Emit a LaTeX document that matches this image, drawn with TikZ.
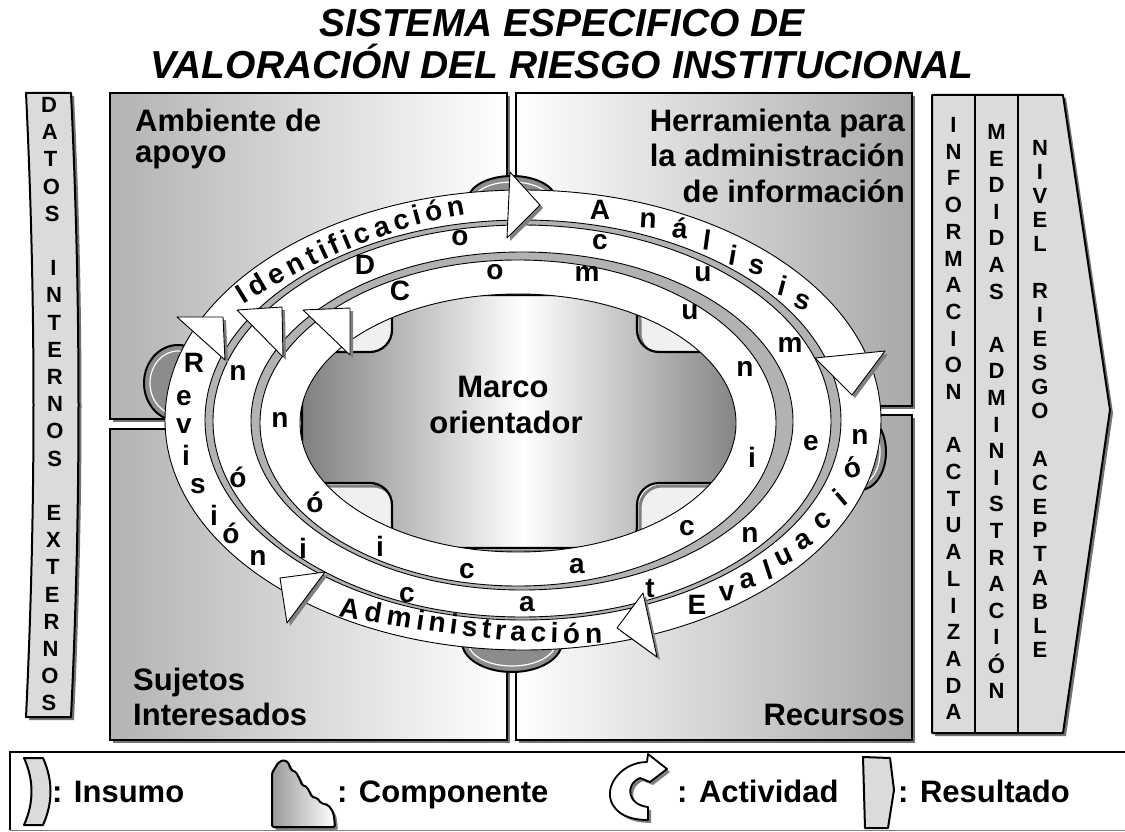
\documentclass[tikz,border=0pt]{standalone}
\usepackage{fontspec}
\setmainfont{Liberation Sans}
\begin{document}
\begin{tikzpicture}[x=1pt,y=-1pt,
  ttl/.style={font=\fontsize{39}{42}\selectfont\bfseries\itshape,anchor=base,inner sep=0pt},
  quad/.style={draw=black,line width=1.8pt},
  qshadow/.style={fill=black!55},
  lab/.style={font=\fontsize{31}{35}\selectfont\bfseries,inner sep=0pt},
  rl/.style={font=\fontsize{28}{28}\selectfont\bfseries,inner sep=0pt},
  cw/.style={font=\fontsize{28}{28}\selectfont\bfseries,inner sep=0pt,sloped,anchor=base},
  vl/.style={font=\fontsize{22}{22}\selectfont\bfseries,inner sep=0pt},
  band/.style={fill=white,draw=black,line width=0.9pt,even odd rule},
  ahead/.style={fill=white,draw=black,line width=0.9pt,line join=round},
  ashadow/.style={fill=black!50},
  inbox/.style={fill=black!14,draw=black,line width=2pt,line join=round},
  knob/.style={fill=black!45,draw=black,line width=2pt},
  legtxt/.style={font=\fontsize{31}{31}\selectfont\bfseries,anchor=base west,inner sep=0pt}
]
\useasboundingbox (0,0) rectangle (1125,832);
\fill[white] (0,0) rectangle (1125,832);

% ---------- title
\node[ttl] (t1) at (562,37) {SISTEMA ESPECIFICO DE};
\node[ttl] (t2) at (562,79) {VALORACIÓN DEL RIESGO INSTITUCIONAL};

% ---------- left input bar
\fill[black!55] (29,96) -- (74,96) .. controls (84,300) and (84,510) .. (74,720) -- (29,720) .. controls (39,510) and (39,300) .. (29,96) -- cycle;
\path[inbox] (26,93) -- (71,93) .. controls (81,300) and (81,510) .. (71,717) -- (26,717) .. controls (36,510) and (36,300) .. (26,93) -- cycle;
\foreach \c [count=\i from 0] in {D,A,T,O,S,,I,N,T,E,R,N,O,S,,E,X,T,E,R,N,O,S}
  \node[vl] (din\i) at ({49+6*sin(180*\i/22)},{105+27.2*\i}) {\c};

% ---------- quadrants
\fill[qshadow] (113,96) rectangle (510,422);
\path[quad,left color=black!30,right color=white] (110,93) rectangle (507,419);
\fill[qshadow] (519,96) rectangle (915,409);
\path[quad,left color=white,right color=black!34] (516,93) rectangle (912,406);
\fill[qshadow] (113,432) rectangle (510,743);
\path[quad,left color=black!30,right color=white] (110,429) rectangle (507,740);
\fill[qshadow] (519,418) rectangle (915,743);
\path[quad,left color=white,right color=black!34] (516,415) rectangle (912,740);

\node[lab,anchor=base west] (amb1) at (135,132) {Ambiente de};
\node[lab,anchor=base west] (amb2) at (135,163) {apoyo};
\node[lab,anchor=base east] (her1) at (905,132) {Herramienta para};
\node[lab,anchor=base east] (her2) at (905,167) {la administración};
\node[lab,anchor=base east] (her3) at (905,202) {de información};
\node[lab,anchor=base west] (suj1) at (133,690) {Sujetos};
\node[lab,anchor=base west] (suj2) at (133,725) {Interesados};
\node[lab,anchor=base east] (rec) at (905,725) {Recursos};

% ---------- knobs
\path[knob] (512,200) ellipse [x radius=44,y radius=24];
\draw[white,line width=1.2pt] (512,200) ellipse [x radius=38,y radius=18];
\path[knob] (512,642) ellipse [x radius=50,y radius=30];
\draw[white,line width=1.2pt] (512,642) ellipse [x radius=44,y radius=24];
\path[knob] (178,383) ellipse [x radius=34,y radius=38];
\draw[white,line width=1.2pt] (178,383) ellipse [x radius=28,y radius=32];
\path[knob] (860,452) ellipse [x radius=26,y radius=38];
\draw[white,line width=1.2pt] (860,452) ellipse [x radius=20,y radius=32];

% ---------- centre
\fill[black!30] (523,420) ellipse [x radius=358,y radius=230];
\fill[black!6] (518,423) ellipse [x radius=218,y radius=129];
\draw[black!50,line width=3pt,rounded corners=22pt,shift={(3,3)}] (392,295) -- (637,295) -- (637,352) -- (745,352) -- (745,483) -- (637,483) -- (637,548) -- (392,548) -- (392,483) -- (302,483) -- (302,352) -- (392,352) -- cycle;
\path[draw=black,line width=2.2pt,rounded corners=22pt,left color=black!50,right color=black!50,middle color=white] (392,295) -- (637,295) -- (637,352) -- (745,352) -- (745,483) -- (637,483) -- (637,548) -- (392,548) -- (392,483) -- (302,483) -- (302,352) -- (392,352) -- cycle;
\node[lab,anchor=base] (marco1) at (503,397) {Marco};
\node[lab,anchor=base] (marco2) at (506,433) {orientador};

% ---------- rings
\path[band] (523,420) ellipse [x radius=358,y radius=230] (523,420) ellipse [x radius=318,y radius=200];
\path[band] (522,421) ellipse [x radius=309,y radius=196] (522,421) ellipse [x radius=271,y radius=169];
\path[band] (518,423) ellipse [x radius=258,y radius=163] (518,423) ellipse [x radius=218,y radius=129];

% Documentación (middle ring)
\foreach \c/\x/\y [count=\i] in {D/365/265,o/460/238,c/600/242,u/703/274,m/790/345,e/811/443,n/750/535,t/650/588,a/527/604,c/407/595,i/303/548,ó/238/477,n/238/373}
  \node[rl] (doc\i) at (\x,\y) {\c};
% Comunicación (inner ring)
\foreach \c/\x/\y [count=\i] in {C/400/291,o/495/272,m/587/274,u/690/312,n/745/369,i/752/457,c/687/528,a/577/566,c/467/571,i/380/546,ó/315/502,n/280/420}
  \node[rl] (com\i) at (\x,\y) {\c};
% Revisión
\foreach \c/\x/\y [count=\i] in {R/194/363,e/184/398,v/184/426,i/186/455,s/198/486,i/214/515,ó/231/533,n/258/558}
  \node[rl] (rev\i) at (\x,\y) {\c};
% Análisis
\foreach \c/\x/\y/\r [count=\i] in {A/600/210/0,n/648/220/-3,á/680/228/-5,l/707/240/-8,i/733/255/-10,s/757/267/-12,i/783/286/-15,s/802/302/-18}
  \node[rl,rotate=\r] (ana\i) at (\x,\y) {\c};
% Evaluación
\foreach \c/\x/\y/\r [count=\i] in {E/697/605/0,v/727/593/5,a/748/581/12,l/768/570/18,u/784/557/25,a/804/541/30,c/823/521/35,i/840/497/40,ó/852/467/15,n/860/437/0}
  \node[rl,rotate=\r] (eva\i) at (\x,\y) {\c};
% Identificación
\path (247,302) .. controls (310,263) and (385,229) .. (457,216)
  node[cw,pos=0] (id1) {I} node[cw,pos=.075] (id2) {d} node[cw,pos=.169] (id3) {e}
  node[cw,pos=.264] (id4) {n} node[cw,pos=.342] (id5) {t} node[cw,pos=.397] (id6) {i}
  node[cw,pos=.451] (id7) {f} node[cw,pos=.506] (id8) {i} node[cw,pos=.576] (id9) {c}
  node[cw,pos=.666] (id10) {a} node[cw,pos=.756] (id11) {c} node[cw,pos=.826] (id12) {i}
  node[cw,pos=.902] (id13) {ó} node[cw,pos=1] (id14) {n};
% Administración
\path (348,618) .. controls (430,632) and (510,645) .. (594,643)
  node[cw,pos=0] (ad1) {A} node[cw,pos=.097] (ad2) {d} node[cw,pos=.204] (ad3) {m}
  node[cw,pos=.291] (ad4) {i} node[cw,pos=.360] (ad5) {n} node[cw,pos=.428] (ad6) {i}
  node[cw,pos=.494] (ad7) {s} node[cw,pos=.563] (ad8) {t} node[cw,pos=.621] (ad9) {r}
  node[cw,pos=.693] (ad10) {a} node[cw,pos=.776] (ad11) {c} node[cw,pos=.841] (ad12) {i}
  node[cw,pos=.910] (ad13) {ó} node[cw,pos=1] (ad14) {n};

% ---------- arrowheads
\foreach \p in {{(510,172) -- (540,205) -- (507,238)},
                {(815,358) -- (885,351) -- (852,395)},
                {(643,593) -- (617,628) -- (657,657)},
                {(325,572) -- (280,578) -- (287,623)},
                {(177,317) -- (223,317) -- (225,360)},
                {(237,310) -- (282,307) -- (283,357)},
                {(303,310) -- (350,308) -- (350,355)}}
{
  \fill[ashadow,shift={(3,3)}] \p -- cycle;
  \path[ahead] \p -- cycle;
}

% ---------- right results
\fill[black!55] (935,98) -- (1066,98) -- (1113,413) -- (1066,736) -- (935,736) -- cycle;
\path[inbox] (932,95) -- (1063,95) -- (1110,410) -- (1063,733) -- (932,733) -- cycle;
\draw[line width=2pt] (975,95) -- (975,733);
\draw[line width=2pt] (1018,95) -- (1018,733);
\foreach \c [count=\i from 0] in {I,N,F,O,R,M,A,C,I,O,N,,A,C,T,U,A,L,I,Z,A,D,A}
  \node[vl] (inf\i) at (953.5,{125+26.7*\i}) {\c};
\foreach \c [count=\i from 0] in {M,E,D,I,D,A,S,,A,D,M,I,N,I,S,T,R,A,C,I,Ó,N}
  \node[vl] (med\i) at (996.5,{132+26.6*\i}) {\c};
\foreach \c [count=\i from 0] in {N,I,V,E,L,,R,I,E,S,G,O,,A,C,E,P,T,A,B,L,E}
  \node[vl] (niv\i) at (1040,{148+23.9*\i}) {\c};

% ---------- legend
\draw[line width=2pt] (1125,752) -- (10,752) -- (10,830);
\draw[black!50,line width=1pt] (10,830) -- (1125,830);
% insumo
\path[inbox] (24,758) -- (43,758) .. controls (53,780) and (53,803) .. (43,825) -- (24,825) .. controls (34,803) and (34,780) .. (24,758) -- cycle;
\node[legtxt] (lin) at (52,802) {: Insumo};
% componente
\fill[black!50,shift={(3,3)},rounded corners=1.5pt] (272,827) -- (272,773) -- (278,763) -- (283,760) -- (288,762) -- (291,770) -- (296,772) -- (300,780) -- (302,785) -- (307,787) -- (312,797) -- (317,798) -- (321,803) -- (328,805) -- (332,810) -- (334,816) -- (335,827) -- cycle;
\path[draw=black,line width=2pt,rounded corners=1.5pt,left color=black!40,right color=white] (272,827) -- (272,773) -- (278,763) -- (283,760) -- (288,762) -- (291,770) -- (296,772) -- (300,780) -- (302,785) -- (307,787) -- (312,797) -- (317,798) -- (321,803) -- (328,805) -- (332,810) -- (334,816) -- (335,827) -- cycle;
\node[legtxt] (lco) at (337,802) {: Componente};
% actividad
\fill[black!50,shift={(3,3)}] (648,820) -- (648,807) .. controls (628,805) and (624,785) .. (640,778) -- (650,782) -- (667,769) -- (648,754) -- (647,762) .. controls (620,762) and (600,790) .. (615,808) .. controls (622,817) and (635,820) .. (648,820) -- cycle;
\path[fill=white,draw=black,line width=1.8pt,line join=round] (648,820) -- (648,807) .. controls (628,805) and (624,785) .. (640,778) -- (650,782) -- (667,769) -- (648,754) -- (647,762) .. controls (620,762) and (600,790) .. (615,808) .. controls (622,817) and (635,820) .. (648,820) -- cycle;
\node[legtxt] (lac) at (677,802) {: Actividad};
% resultado
\path[inbox] (863,757) -- (890,758) -- (894,790) -- (888,828) -- (865,828) -- cycle;
\node[legtxt] (lre) at (898,802) {: Resultado};
\end{tikzpicture}
\end{document}
